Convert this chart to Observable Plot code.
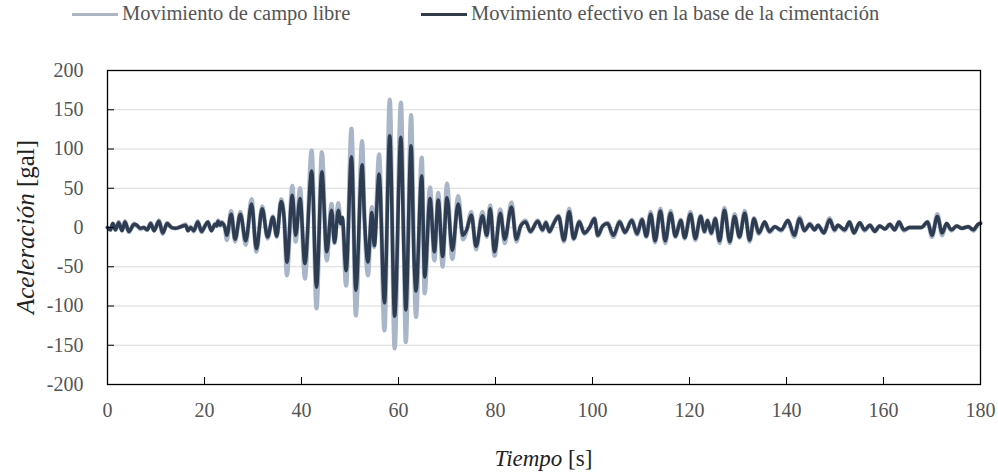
<!DOCTYPE html>
<html><head><meta charset="utf-8">
<script src="https://cdn.jsdelivr.net/npm/d3@7"></script>
<script src="https://cdn.jsdelivr.net/npm/@observablehq/plot@0.6"></script>
<style>
body{margin:0;background:#fff;font-family:"Liberation Serif","Times New Roman",serif;}
#legend{height:28px;position:relative;font-size:20.5px;color:#555;}
#legend .sw{position:absolute;top:13px;height:3px;width:46px;}
#legend .tx{position:absolute;top:1px;white-space:nowrap;line-height:24px;}
</style></head><body>
<div id="legend"></div><div id="chart"></div>
<script>
// time of each read extreme [s]
const time = [0,0.6,1.1,1.65,2.3,3.0,3.6,4.4,5.5,6.0,6.8,7.5,8.2,8.9,9.6,10.6,11.4,12.3,13.2,14.0,15.1,16.1,16.6,17.1,17.8,18.6,19.4,20.1,20.7,21.4,22.2,22.5,22.8,23.2,23.5,24.2,24.6,25.5,26.3,27.4,28.5,29.7,30.7,31.9,33.0,34.1,34.9,35.8,36.4,37.0,38.1,38.8,39.7,40.7,42.1,43.1,44.2,45.2,46.2,46.8,47.6,48.1,48.4,49.2,50.3,51.2,52.5,53.0,53.7,54.5,55.0,56.0,57.1,58.2,59.2,60.5,61.1,61.5,62.6,63.2,63.6,64.8,65.4,66.5,67.4,68.2,69.1,70.0,71.1,72.3,73.3,74.1,75.0,76.0,77.3,78.2,78.9,79.8,81.0,81.9,83.3,84.3,85.2,86.2,87.2,88.7,89.7,90.4,91.1,92.0,93.0,94.1,95.2,96.1,97.3,98.3,99.4,100.4,101.1,102.1,103.1,104.3,105.6,106.7,108.1,109.2,110.2,111.1,112.0,112.9,114.0,115.0,116.1,117.1,118.2,119.0,120.2,121.2,122.3,123.1,123.7,124.5,125.3,126.2,127.2,128.3,129.3,130.3,131.4,132.4,133.3,134.3,135.5,136.5,137.6,138.9,140.3,141.6,142.7,143.7,144.8,145.8,146.5,147.7,148.9,149.9,150.6,152.0,153.0,153.9,155.1,156.1,157.2,158.2,159.2,160.3,161.3,162.3,163.2,164.2,165.4,166.4,167.8,169.1,170.0,171.1,172.1,173.0,174.0,175.1,176.1,177.5,178.5,179.5,180.0];
// free-field acceleration [gal]
const freeField = [0,-3,5,-3,7,-4,8,-6,5,3,-2,0,-3,6,-4,9,-8,6,0,-1,1,4,-4,1,-5,8,-6,2,7,-4,5,2,9,3,7,0,-16,21,-18,20,-22,36,-31,27,-14,14,-12,36,14,-61,53,-18,50,-65,98,-103,96,-42,30,-20,31,4,12,-74,126,-112,110,10,-61,26,-25,93,-131,163,-154,159,-25,-146,143,-40,-114,89,-84,51,-42,44,-50,56,-40,40,-15,-3,20,-28,20,-12,28,-36,23,-20,32,-18,2,9,-6,9,-4,7,-6,6,15,-18,24,-15,8,-8,0,12,-11,2,6,-12,8,-7,10,-9,11,-12,20,-19,24,-20,21,-12,10,-14,20,-16,15,-6,9,-8,12,-20,25,-20,17,-13,21,-18,12,-8,7,-6,1,-4,9,-12,13,-4,5,-3,3,-7,12,-4,3,-4,7,-7,6,-4,3,-5,2,-2,4,-3,7,-4,0,0,0,7,-12,17,-10,5,-4,2,-1,1,-4,4,6];
// effective foundation-input acceleration [gal]
const foundation = [0,-3,5,-3,6,-4,7,-5,4,3,-1,0,-3,5,-4,8,-7,5,0,-1,1,3,-4,0,-4,7,-5,2,7,-4,4,2,8,3,6,0,-10,17,-15,17,-17,30,-27,24,-12,13,-11,33,13,-44,41,-10,37,-46,72,-76,71,-31,22,-19,22,5,13,-55,90,-80,80,9,-44,19,-23,68,-96,117,-113,115,-27,-105,104,-40,-81,66,-63,37,-31,35,-37,38,-29,30,-10,-2,16,-24,15,-10,24,-31,18,-15,26,-15,2,7,-5,8,-3,6,-5,5,14,-16,20,-14,7,-7,0,11,-10,2,5,-10,7,-6,9,-8,10,-11,17,-17,21,-17,18,-11,9,-13,17,-14,14,-5,9,-7,11,-17,22,-18,14,-12,18,-16,11,-7,7,-5,1,-3,9,-10,11,-4,4,-3,3,-7,10,-3,3,-3,7,-7,6,-3,3,-5,2,-2,4,-3,7,-3,0,0,0,7,-10,14,-7,5,-3,2,-1,1,-3,4,5];

const xTicks = [0,20,40,60,80,100,120,140,160,180];
const yTicks = [-200,-150,-100,-50,0,50,100,150,200];
const seriesNames = ["Movimiento de campo libre","Movimiento efectivo en la base de la cimentación"];
const seriesColors = ["#a9b5c9","#2e3c52"];
const legendLeft = [72, 421];

const data = time.map((t,i)=>({t, ff: freeField[i], fd: foundation[i]}));

// legend
const leg = document.getElementById("legend");
seriesNames.forEach((n,i)=>{
  const sw = document.createElement("span"); sw.className="sw";
  sw.style.background=seriesColors[i]; sw.style.left = legendLeft[i] + "px";
  const tx = document.createElement("span"); tx.className="tx"; tx.textContent=n;
  tx.style.left = (legendLeft[i] + 50) + "px";
  leg.append(sw,tx);
});

const W = 998, H = 446, mL = 107, mR = 18, mT = 42, mB = 90;
const chart = Plot.plot({
  width: W, height: H,
  marginLeft: mL, marginRight: mR, marginTop: mT, marginBottom: mB,
  style: {fontFamily: "'Liberation Serif', 'Times New Roman', serif", fontSize: "20px", color: "#555", background: "#fff"},
  x: {domain: [0,180], ticks: xTicks, label: null},
  y: {domain: [-200,200], ticks: yTicks, label: null},
  marks: [
    Plot.gridY(yTicks.filter(d=>Math.abs(d)<200), {stroke: "#d9d9d9", strokeOpacity: 1, strokeWidth: 1}),
    Plot.line(data, {x: "t", y: "ff", stroke: seriesColors[0], strokeWidth: 4.3, curve: "monotone-x"}),
    Plot.line(data, {x: "t", y: "fd", stroke: seriesColors[1], strokeWidth: 3.5, curve: "monotone-x"}),
    Plot.frame({stroke: "#000", strokeWidth: 1.3}),
    Plot.axisX(xTicks, {tickSize: -7, stroke: "#000", tickPadding: 25, fill: "#555", tickFormat: d=>String(d)}),
    Plot.axisY(yTicks, {tickSize: -7, stroke: "#000", tickPadding: 31, fill: "#555", tickFormat: d=>String(d)})
  ]
});
document.getElementById("chart").append(chart);

// axis titles with mixed italic
const svg = d3.select(chart);
const xt = svg.append("text").attr("x", (mL + W - mR)/2).attr("y", H - 8)
  .attr("text-anchor","middle").attr("fill","#222").style("font-size","23px");
xt.append("tspan").attr("font-style","italic").text("Tiempo");
xt.append("tspan").text(" [s]");
const yt = svg.append("text").attr("transform", `translate(34,${mT + (H - mT - mB)/2}) rotate(-90)`)
  .attr("text-anchor","middle").attr("fill","#222").style("font-size","25px");
yt.append("tspan").attr("font-style","italic").text("Aceleración");
yt.append("tspan").text(" [gal]");
</script>
</body></html>
